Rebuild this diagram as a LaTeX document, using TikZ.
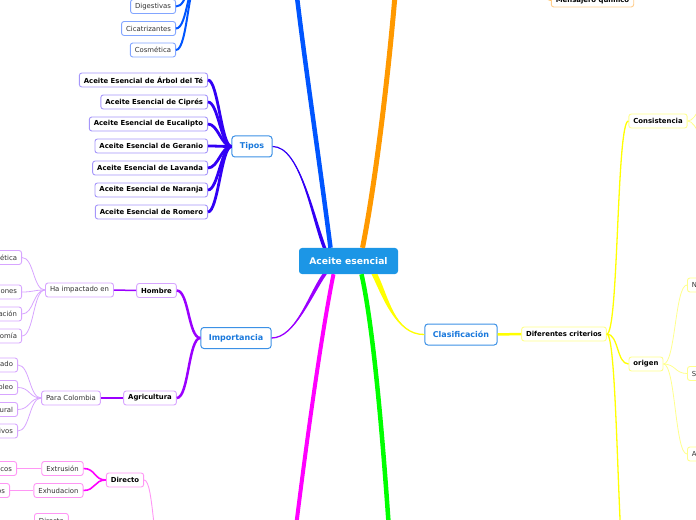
\documentclass[tikz,border=0pt]{standalone}
\usepackage{fontspec}
\setmainfont{DejaVu Sans}
\usetikzlibrary{positioning}

\definecolor{rootfill}{RGB}{28,150,230}
\definecolor{topicline}{RGB}{60,145,230}
\definecolor{topictext}{RGB}{25,120,220}
\definecolor{usosline}{RGB}{0,85,255}
\definecolor{usosbox}{RGB}{130,165,255}
\definecolor{tiposline}{RGB}{50,0,245}
\definecolor{tiposbox}{RGB}{165,150,250}
\definecolor{impline}{RGB}{155,0,255}
\definecolor{impbox}{RGB}{215,165,255}
\definecolor{obtline}{RGB}{255,0,255}
\definecolor{obtbox}{RGB}{255,150,245}
\definecolor{greenline}{RGB}{0,255,0}
\definecolor{orangeline}{RGB}{255,153,0}
\definecolor{orangebox}{RGB}{255,205,140}
\definecolor{clasline}{RGB}{255,255,0}
\definecolor{clasbox}{RGB}{255,255,140}

\begin{document}
\begin{tikzpicture}[
        x=1bp,
        y=1bp,
        root/.style={
            fill=rootfill,
            text=white,
            rounded corners=3bp,
            font=\fontsize{9.2bp}{11bp}\selectfont\bfseries,
            minimum width=99bp,
            minimum height=26bp,
            inner sep=0pt
        },
        topic/.style={
            draw=topicline,
            line width=1bp,
            fill=white,
            text=topictext,
            rounded corners=3bp,
            font=\fontsize{8bp}{10bp}\selectfont\bfseries,
            minimum height=21bp,
            inner xsep=8bp,
            inner ysep=0pt
        },
        leaf/.style={
            draw=#1,
            line width=0.9bp,
            fill=white,
            text=black!80,
            rounded corners=2.5bp,
            font=\fontsize{6.9bp}{8bp}\selectfont,
            minimum height=14bp,
            inner xsep=4.5bp,
            inner ysep=0pt
        },
        bleaf/.style={leaf=#1, font=\fontsize{6.9bp}{8bp}\selectfont\bfseries, text=black},
        sflow/.style={out=0, in=180, distance=#1},
        sflow/.default=12bp
    ]
        % Visible window of the map.
        \useasboundingbox (0,0) rectangle (696,-520);
        \clip (0,0) rectangle (696,-520);

        \node[root] (aceite) at (348.5,-261) {Aceite esencial};

        % Main branches that leave the window.
        \coordinate (usostop) at (294,30);
        \coordinate (mensajerotop) at (397,30);
        \coordinate (obtbottom) at (292,-560);
        \coordinate (verdebottom) at (391,-560);
        \draw[usosline, line width=4.5bp] ([xshift=-18bp]aceite.north) .. controls (318,-150) and (300,-30) .. (usostop);
        \draw[orangeline, line width=5bp] ([xshift=14bp]aceite.north) .. controls (378,-170) and (392,-40) .. (mensajerotop);
        \draw[obtline, line width=4bp] ([xshift=-15bp]aceite.south) .. controls (322,-330) and (305,-450) .. (obtbottom);
        \draw[greenline, line width=4.5bp] ([xshift=13bp]aceite.south) .. controls (374,-330) and (384,-450) .. (verdebottom);

        % Usos (top left, parent above the window).
        \coordinate (usos) at (200,25);
        \node[leaf=usosbox, anchor=east] (digestivas) at (176,-6.5) {Digestivas};
        \node[leaf=usosbox, anchor=east] (cicatriz) at (176,-28.5) {Cicatrizantes};
        \node[leaf=usosbox, anchor=east] (cosmetica) at (176,-50) {Cosmética};
        \draw[usosline, line width=2bp] (digestivas.east) to[sflow] (usos);
        \draw[usosline, line width=2bp] (cicatriz.east) to[sflow] (usos);
        \draw[usosline, line width=2bp] (cosmetica.east) to[sflow] (usos);

        % Mensajero quimico (top right).
        \coordinate (mensajeroin) at (530,20);
        \node[bleaf=orangebox] (mensajero) at (592.5,0) {Mensajero químico};
        \draw[orangeline, line width=1.5bp] (mensajeroin) to[sflow=10bp] (mensajero.west);

        % Tipos (branch gets thinner away from the root).
        \node[topic] (tipos) at (252,-146.5) {Tipos};
        \fill[tiposline] (tipos.east) .. controls (300,-146.5) and (310.2,-215) .. ([xshift=-25.8bp]aceite.north)
            -- ([xshift=-22.2bp]aceite.north) .. controls (313.8,-215) and (300,-146.5) .. (tipos.east);
        \draw[tiposline, line width=1.2bp] (tipos.east) .. controls (300,-146.5) and (312,-215) .. ([xshift=-24bp]aceite.north);
        \node[bleaf=tiposbox, anchor=east] (arbol) at (208,-80) {Aceite Esencial de Árbol del Té};
        \node[bleaf=tiposbox, anchor=east] (cipres) at (208,-102) {Aceite Esencial de Ciprés};
        \node[bleaf=tiposbox, anchor=east] (eucalipto) at (208,-124) {Aceite Esencial de Eucalipto};
        \node[bleaf=tiposbox, anchor=east] (geranio) at (208,-146) {Aceite Esencial de Geranio};
        \node[bleaf=tiposbox, anchor=east] (lavanda) at (208,-168) {Aceite Esencial de Lavanda};
        \node[bleaf=tiposbox, anchor=east] (naranja) at (208,-190) {Aceite Esencial de Naranja};
        \node[bleaf=tiposbox, anchor=east] (romero) at (208,-212) {Aceite Esencial de Romero};
        \draw[tiposline, line width=2.8bp] (arbol.east) to[sflow=10bp] (tipos.west);
        \draw[tiposline, line width=2.8bp] (cipres.east) to[sflow=10bp] (tipos.west);
        \draw[tiposline, line width=2.8bp] (eucalipto.east) to[sflow=10bp] (tipos.west);
        \draw[tiposline, line width=2.8bp] (geranio.east) to[sflow=10bp] (tipos.west);
        \draw[tiposline, line width=2.8bp] (lavanda.east) to[sflow=10bp] (tipos.west);
        \draw[tiposline, line width=2.8bp] (naranja.east) to[sflow=10bp] (tipos.west);
        \draw[tiposline, line width=2.8bp] (romero.east) to[sflow=10bp] (tipos.west);

        % Importancia.
        \node[topic] (importancia) at (236,-338) {Importancia};
        \fill[impline] (importancia.east) .. controls (295,-338) and (307.8,-295) .. ([xshift=-26.2bp]aceite.south)
            -- ([xshift=-21.8bp]aceite.south) .. controls (312.2,-295) and (295,-338) .. (importancia.east);
        \draw[impline, line width=1.3bp] (importancia.east) .. controls (295,-338) and (310,-295) .. ([xshift=-24bp]aceite.south);
        \node[bleaf=impbox] (hombre) at (156.5,-290.5) {Hombre};
        \node[bleaf=impbox] (agricultura) at (150,-398) {Agricultura};
        \draw[impline, line width=2.5bp] (hombre.east) to[sflow] (importancia.west);
        \draw[impline, line width=2.5bp] (agricultura.east) to[sflow] (importancia.west);
        \node[leaf=impbox] (impacto) at (79.5,-290) {Ha impactado en};
        \node[leaf=impbox] (colombia) at (71,-398) {Para Colombia};
        \draw[impline, line width=1.5bp] (impacto.east) -- (hombre.west);
        \draw[impline, line width=1.5bp] (colombia.east) -- (agricultura.west);

        \node[leaf=impbox, anchor=east] (cosmetica2) at (22,-257.5) {Cosmética};
        \node[leaf=impbox, anchor=east] (religiones) at (22,-292) {Religiones};
        \node[leaf=impbox, anchor=east] (alimentacion) at (22,-314) {Alimentación};
        \node[leaf=impbox, anchor=east] (gastronomia) at (22,-336) {Gastronomía};
        \draw[impbox, line width=0.8bp] (cosmetica2.east) to[sflow] (impacto.west);
        \draw[impbox, line width=0.8bp] (religiones.east) to[sflow] (impacto.west);
        \draw[impbox, line width=0.8bp] (alimentacion.east) to[sflow] (impacto.west);
        \draw[impbox, line width=0.8bp] (gastronomia.east) to[sflow] (impacto.west);

        \node[leaf=impbox, anchor=east] (agregado) at (18,-365) {Valor agregado};
        \node[leaf=impbox, anchor=east] (empleo) at (18,-387.5) {Empleo};
        \node[leaf=impbox, anchor=east] (rural) at (18,-409.5) {Desarrollo rural};
        \node[leaf=impbox, anchor=east] (cultivos) at (18,-431) {Cultivos alternativos};
        \draw[impbox, line width=0.8bp] (agregado.east) to[sflow] (colombia.west);
        \draw[impbox, line width=0.8bp] (empleo.east) to[sflow] (colombia.west);
        \draw[impbox, line width=0.8bp] (rural.east) to[sflow] (colombia.west);
        \draw[impbox, line width=0.8bp] (cultivos.east) to[sflow] (colombia.west);

        % Obtencion (bottom left).
        \node[bleaf=obtbox] (directo) at (125,-480) {Directo};
        \coordinate (directoout) at (163,-560);
        \draw[obtbox, line width=0.9bp] (directo.east) to[sflow=10bp] (directoout);
        \node[leaf=obtbox] (extrusion) at (62.5,-468.5) {Extrusión};
        \node[leaf=obtbox] (exhudacion) at (58.5,-490.5) {Exhudacion};
        \draw[obtline, line width=1.6bp] (extrusion.east) to[sflow] (directo.west);
        \draw[obtline, line width=1.6bp] (exhudacion.east) to[sflow] (directo.west);
        \node[leaf=obtbox, anchor=east] (citricos) at (17,-468.5) {Cítricos};
        \node[leaf=obtbox, anchor=east] (balsamos) at (10,-490.5) {Bálsamos};
        \draw[obtbox, line width=0.8bp] (citricos.east) -- (extrusion.west);
        \draw[obtbox, line width=0.8bp] (balsamos.east) -- (exhudacion.west);
        \node[leaf=obtbox, anchor=north west] (directob) at (34,-513) {Directo};
        \coordinate (directobout) at (92,-545);
        \draw[obtbox, line width=0.8bp] (directob.east) to[sflow=10bp] (directobout);

        % Clasificacion (right).
        \node[topic] (clasificacion) at (461,-334.5) {Clasificación};
        \fill[clasline] ([xshift=23bp]aceite.south) .. controls (382,-295) and (395,-335) .. (clasificacion.west)
            .. controls (395,-335) and (388,-295) .. ([xshift=29bp]aceite.south) -- cycle;
        \draw[clasline, line width=1.3bp] ([xshift=26bp]aceite.south) .. controls (385,-295) and (395,-335) .. (clasificacion.west);
        \node[bleaf=clasbox] (criterios) at (564,-334) {Diferentes criterios};
        \draw[clasline, line width=2.5bp] (clasificacion.east) -- (criterios.west);
        \node[bleaf=clasbox] (consistencia) at (658,-121) {Consistencia};
        \node[bleaf=clasbox] (origen) at (646,-364) {origen};
        \coordinate (criteriosout) at (629,-600);
        \draw[clasline, line width=1.3bp] (criterios.east) to[sflow] (consistencia.west);
        \draw[clasline, line width=1.3bp] (criterios.east) to[sflow] (origen.west);
        \draw[clasline, line width=1.3bp] (criterios.east) to[sflow] (criteriosout);

        \coordinate (consistup) at (712,-95);
        \coordinate (consistdown) at (712,-150);
        \draw[clasbox, line width=0.8bp] (consistencia.east) to[sflow=10bp] (consistup);
        \draw[clasbox, line width=0.8bp] (consistencia.east) to[sflow=10bp] (consistdown);

        \node[leaf=clasbox, anchor=west] (natural) at (687,-285) {Naturales};
        \node[leaf=clasbox, anchor=west] (sintetico) at (687,-373.5) {Sintéticos};
        \node[leaf=clasbox, anchor=west] (artificial) at (687,-454) {Artificiales};
        \draw[clasbox, line width=0.8bp] (origen.east) to[sflow] (natural.west);
        \draw[clasbox, line width=0.8bp] (origen.east) to[sflow] (sintetico.west);
        \draw[clasbox, line width=0.8bp] (origen.east) to[sflow] (artificial.west);

    \end{tikzpicture}
\end{document}
